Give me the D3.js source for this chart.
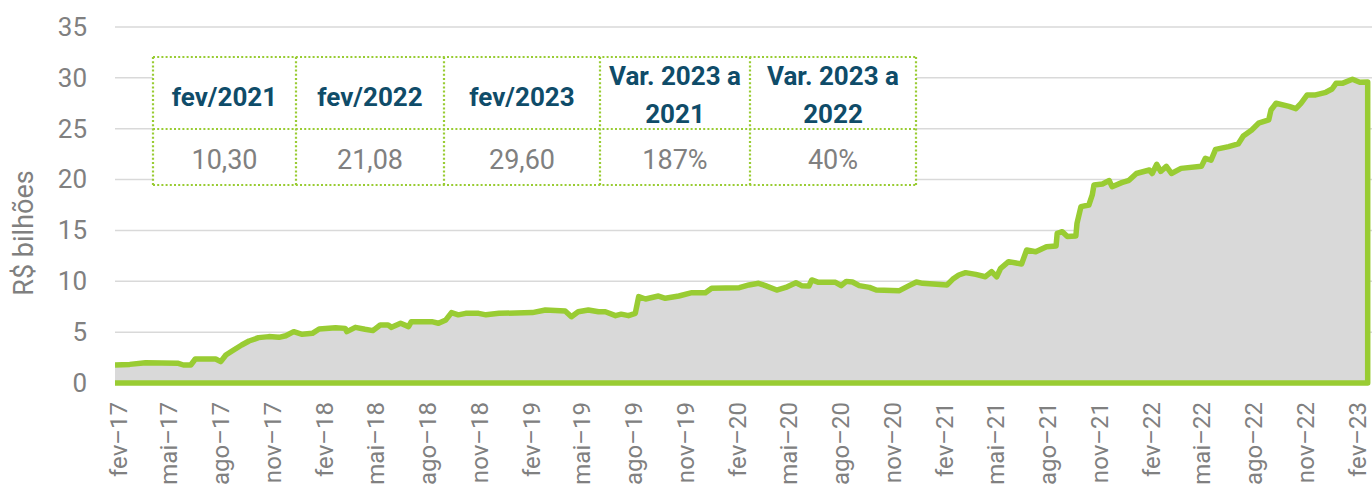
<!DOCTYPE html>
<html>
<head>
<meta charset="utf-8">
<script src="https://cdn.jsdelivr.net/npm/d3@7"></script>
<style>
  body { margin: 0; background: #fff; }
  text { font-family: Roboto, "Noto Sans", sans-serif; }
</style>
</head>
<body>
<div id="chart"></div>
<script>
// serie diaria aproximada (R$ bilhoes)
var dates = ["2017-01-27","2017-02-22","2017-03-22","2017-05-19","2017-05-28","2017-06-10","2017-06-18","2017-07-24",
  "2017-08-02","2017-08-11","2017-08-22","2017-09-08","2017-09-21","2017-10-08","2017-10-26","2017-11-13","2017-11-25",
  "2017-12-09","2017-12-24","2018-01-11","2018-01-23","2018-02-21","2018-03-10","2018-03-13","2018-03-28","2018-04-14",
  "2018-04-28","2018-05-11","2018-05-25","2018-05-31","2018-06-16","2018-06-30","2018-07-05","2018-08-10","2018-08-22",
  "2018-09-04","2018-09-14","2018-09-26","2018-10-09","2018-11-01","2018-11-14","2018-12-07","2019-02-04","2019-02-27",
  "2019-04-03","2019-04-14","2019-04-26","2019-05-14","2019-06-01","2019-06-13","2019-07-01","2019-07-11","2019-07-24",
  "2019-08-05","2019-08-11","2019-08-23","2019-09-15","2019-09-27","2019-10-21","2019-11-13","2019-12-07","2019-12-18",
  "2020-02-05","2020-02-22","2020-03-10","2020-03-22","2020-04-11","2020-04-27","2020-05-15","2020-05-25","2020-06-07",
  "2020-06-12","2020-06-24","2020-07-24","2020-08-03","2020-08-12","2020-08-23","2020-09-04","2020-09-22","2020-10-04",
  "2020-11-14","2020-12-01","2020-12-14","2020-12-25","2021-02-06","2021-02-16","2021-02-27","2021-03-11","2021-03-29",
  "2021-04-15","2021-04-26","2021-05-05","2021-05-12","2021-05-26","2021-06-18","2021-06-27","2021-07-13","2021-08-01",
  "2021-08-18","2021-08-20","2021-08-29","2021-09-07","2021-09-22","2021-09-24","2021-10-01","2021-10-15","2021-10-21",
  "2021-10-24","2021-11-08","2021-11-20","2021-11-25","2021-12-12","2021-12-25","2022-01-07","2022-01-30","2022-02-04",
  "2022-02-12","2022-02-19","2022-03-01","2022-03-10","2022-03-27","2022-05-02","2022-05-09","2022-05-19","2022-05-27",
  "2022-06-19","2022-07-06","2022-07-15","2022-07-30","2022-08-11","2022-08-29","2022-09-02","2022-09-11","2022-10-04",
  "2022-10-16","2022-10-25","2022-11-05","2022-11-20","2022-12-08","2022-12-19","2022-12-26","2023-01-06","2023-01-24",
  "2023-02-06","2023-02-20"];
var values = [1.77,1.83,2.0,1.93,1.77,1.77,2.36,2.36,
  2.1,2.75,3.15,3.74,4.13,4.46,4.56,4.49,4.65,
  5.05,4.79,4.88,5.31,5.44,5.37,5.05,5.47,5.28,
  5.15,5.7,5.7,5.47,5.87,5.54,6.03,6.03,5.87,
  6.2,6.92,6.7,6.85,6.85,6.7,6.85,6.92,7.18,
  7.08,6.52,7.0,7.18,7.0,7.0,6.62,6.77,6.62,
  6.85,8.49,8.26,8.55,8.33,8.55,8.88,8.88,9.31,
  9.37,9.64,9.8,9.57,9.14,9.4,9.86,9.57,9.54,
  10.13,9.9,9.9,9.57,9.99,9.93,9.57,9.4,9.14,
  9.08,9.57,9.93,9.8,9.64,10.19,10.62,10.85,10.68,
  10.45,10.95,10.45,11.28,11.93,11.7,13.08,12.9,13.4,
  13.47,14.72,14.88,14.4,14.45,15.7,17.34,17.5,18.49,
  19.47,19.57,19.9,19.3,19.7,19.93,20.6,20.94,20.6,
  21.5,20.8,21.3,20.6,21.1,21.3,22.09,21.9,22.97,
  23.24,23.5,24.29,24.88,25.54,25.87,26.84,27.5,27.2,
  26.97,27.5,28.32,28.32,28.58,28.9,29.46,29.46,29.86,
  29.56,29.6];

var monthNames = ["jan","fev","mar","abr","mai","jun","jul","ago","set","out","nov","dez"];
var yTicks = [0,5,10,15,20,25,30,35];

var tableHeaders = [["fev/2021"],["fev/2022"],["fev/2023"],["Var. 2023 a","2021"],["Var. 2023 a","2022"]];
var tableValues = ["10,30","21,08","29,60","187%","40%"];

var W = 1372, H = 486;
var green = "#99cc33", fillGray = "#d9d9d9", gridGray = "#d9d9d9", textGray = "#808080", teal = "#0f4c69";

var parse = d3.timeParse("%Y-%m-%d");
var data = dates.map(function(d,i){ return {date: parse(d), value: values[i]}; });

var svg = d3.select("#chart").append("svg")
  .attr("width", W).attr("height", H);

var x = d3.scaleTime()
  .domain([parse("2017-01-27"), parse("2023-02-17")])
  .range([115, 1366]);
var y = d3.scaleLinear().domain([0,35]).range([383, 27]);

// grid
svg.append("g").selectAll("line")
  .data(yTicks.filter(function(t){ return t > 0; }))
  .enter().append("line")
    .attr("x1", 115).attr("x2", W)
    .attr("y1", function(d){ return y(d); }).attr("y2", function(d){ return y(d); })
    .style("stroke", gridGray).style("stroke-width", 1.5);

// y axis labels
var yAxis = d3.axisLeft(y).tickValues(yTicks).tickSize(0).tickPadding(0);
var gy = svg.append("g").attr("transform", "translate(87,0)").call(yAxis);
gy.select(".domain").remove();
gy.selectAll("text")
  .style("font-size", "26px").style("fill", textGray).style("font-family", "Roboto");

svg.append("text")
  .attr("transform", "translate(33,233) rotate(-90)")
  .attr("text-anchor", "middle")
  .style("font-size", "27px").style("fill", textGray)
  .text("R$ bilhões");

// area
var area = d3.area()
  .x(function(d){ return x(d.date); })
  .y0(y(0))
  .y1(function(d){ return y(d.value); });
svg.append("path").datum(data)
  .attr("d", area)
  .style("fill", fillGray);

// outline: top line, right edge, bottom
var line = d3.line()
  .x(function(d){ return x(d.date); })
  .y(function(d){ return y(d.value); });
var last = data[data.length-1];
var outline = data.concat([{date: last.date, value: 0}, {date: data[0].date, value: 0}]);
svg.append("clipPath").attr("id", "clip")
  .append("rect").attr("x", 115).attr("y", 0).attr("width", W-115).attr("height", H);
svg.append("path").datum(outline)
  .attr("d", line)
  .attr("clip-path", "url(#clip)")
  .style("fill", "none")
  .style("stroke", green)
  .style("stroke-width", 5.5)
  .style("stroke-linejoin", "round");

// x axis
var tickDates = d3.timeMonth.range(parse("2017-02-01"), parse("2023-03-01"), 3);
var xAxis = d3.axisBottom(x).tickValues(tickDates).tickSize(0).tickPadding(0)
  .tickFormat(function(d){ return monthNames[d.getMonth()] + "–" + d3.timeFormat("%y")(d); });
var gx = svg.append("g").attr("transform", "translate(0,400)").call(xAxis);
gx.select(".domain").remove();
gx.selectAll("text")
  .attr("transform", "rotate(-90)")
  .attr("x", -2).attr("y", 0).attr("dy", "0.36em")
  .attr("text-anchor", "end")
  .style("font-size", "24px").style("fill", textGray).style("font-family", "Roboto");

// table
var colEdges = [153, 296, 444, 600, 750, 916];
var rowEdges = [57, 129, 185];
var table = svg.append("g");
table.append("rect")
  .attr("x", colEdges[0]).attr("y", rowEdges[0])
  .attr("width", colEdges[5]-colEdges[0]).attr("height", rowEdges[2]-rowEdges[0])
  .style("fill", "#fff");
var dotted = function(sel){
  return sel.style("stroke", green).style("stroke-width", 2.2).style("stroke-dasharray", "2,2.2").style("fill", "none");
};
colEdges.forEach(function(cx){
  dotted(table.append("line").attr("x1", cx).attr("x2", cx).attr("y1", rowEdges[0]).attr("y2", rowEdges[2]));
});
rowEdges.forEach(function(ry){
  dotted(table.append("line").attr("x1", colEdges[0]).attr("x2", colEdges[5]).attr("y1", ry).attr("y2", ry));
});

tableHeaders.forEach(function(lines, i){
  var cx = (colEdges[i] + colEdges[i+1]) / 2;
  var t = table.append("text")
    .attr("x", cx)
    .attr("text-anchor", "middle")
    .style("font-size", "26px").style("font-weight", "bold").style("fill", teal);
  if (lines.length == 1) {
    t.attr("y", 106).text(lines[0]);
  } else {
    lines.forEach(function(l, k){
      t.append("tspan").attr("x", cx).attr("y", 85 + k*38).text(l);
    });
  }
});
tableValues.forEach(function(v, i){
  table.append("text")
    .attr("x", (colEdges[i] + colEdges[i+1]) / 2)
    .attr("y", 169)
    .attr("text-anchor", "middle")
    .style("font-size", "27px").style("fill", textGray)
    .text(v);
});
</script>
</body>
</html>
